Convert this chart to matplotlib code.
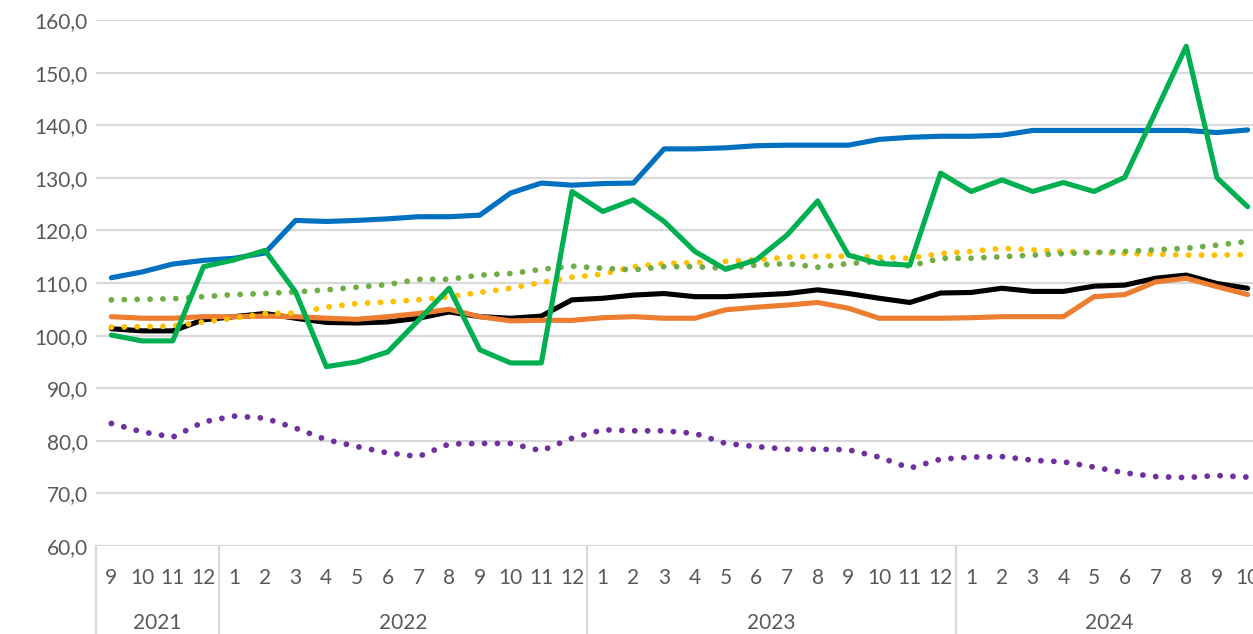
import matplotlib
matplotlib.use("Agg")
import matplotlib.pyplot as plt
import matplotlib.transforms as mtransforms

plt.rcParams['font.family'] = ['Lato', 'DejaVu Sans']

months = [9, 10, 11, 12,
          1, 2, 3, 4, 5, 6, 7, 8, 9, 10, 11, 12,
          1, 2, 3, 4, 5, 6, 7, 8, 9, 10, 11, 12,
          1, 2, 3, 4, 5, 6, 7, 8, 9, 10]
years = ['2021', '2022', '2023', '2024']
year_counts = [4, 12, 12, 10]

blue = [111.0, 112.1, 113.6, 114.3, 114.7, 115.7, 121.9, 121.7, 121.9, 122.2,
        122.6, 122.6, 122.9, 127.1, 129.0, 128.6, 128.9, 129.0, 135.5, 135.5,
        135.7, 136.1, 136.2, 136.2, 136.2, 137.3, 137.7, 137.9, 137.9, 138.1,
        139.0, 139.0, 139.0, 139.0, 139.0, 139.0, 138.6, 139.1]
green = [100.1, 99.0, 99.0, 113.1, 114.4, 116.2, 108.3, 94.1, 95.0, 96.9,
         102.9, 109.0, 97.3, 94.8, 94.8, 127.4, 123.6, 125.8, 121.7, 116.0,
         112.6, 114.4, 119.1, 125.6, 115.3, 113.7, 113.4, 130.9, 127.4, 129.6,
         127.4, 129.1, 127.4, 130.1, 142.5, 155.0, 130.0, 124.5]
black = [101.3, 100.9, 100.9, 103.0, 103.6, 104.2, 103.3, 102.5, 102.4, 102.6,
         103.3, 104.5, 103.6, 103.3, 103.7, 106.8, 107.1, 107.7, 108.0, 107.4,
         107.4, 107.7, 108.0, 108.7, 108.0, 107.1, 106.3, 108.1, 108.2, 109.0,
         108.4, 108.4, 109.4, 109.6, 110.9, 111.5, 109.9, 109.0]
orange = [103.6, 103.3, 103.3, 103.6, 103.6, 103.7, 103.6, 103.3, 103.1, 103.6,
          104.2, 105.0, 103.6, 102.8, 102.9, 102.9, 103.4, 103.6, 103.3, 103.3,
          104.9, 105.4, 105.8, 106.3, 105.2, 103.3, 103.3, 103.3, 103.4, 103.6,
          103.6, 103.6, 107.4, 107.8, 110.2, 110.9, 109.3, 107.8]
olive = [106.8, 106.9, 107.0, 107.4, 107.8, 108.0, 108.3, 108.7, 109.2, 109.7,
         110.7, 110.7, 111.5, 111.8, 112.6, 113.2, 112.8, 112.5, 113.1, 113.1,
         112.8, 113.4, 113.7, 113.0, 113.7, 114.1, 113.2, 114.7, 114.7, 115.0,
         115.3, 115.6, 115.8, 116.0, 116.3, 116.6, 117.2, 117.9]
yellow = [101.6, 101.7, 101.8, 102.6, 103.3, 104.2, 104.3, 105.4, 106.1, 106.4,
          106.8, 107.4, 108.2, 109.0, 110.1, 111.1, 111.7, 113.1, 113.7, 113.9,
          114.1, 114.4, 114.9, 115.1, 115.1, 114.9, 114.7, 115.6, 116.0, 116.6,
          116.3, 116.0, 115.8, 115.6, 115.5, 115.3, 115.3, 115.4]
purple = [83.3, 81.7, 80.7, 83.6, 84.7, 84.3, 82.4, 80.2, 78.9, 77.7,
          77.0, 79.4, 79.5, 79.5, 78.1, 80.5, 82.1, 81.9, 81.9, 81.4,
          79.5, 78.9, 78.4, 78.4, 78.3, 76.9, 74.8, 76.5, 76.9, 77.0,
          76.3, 76.0, 75.0, 73.9, 73.2, 73.0, 73.4, 73.1]

W, H = 1253, 634
fig = plt.figure(figsize=(W / 100, H / 100), dpi=100)
left, right, top, bottom = 96, 1263, 20, 546
ax = fig.add_axes([left / W, (H - bottom) / H, (right - left) / W, (bottom - top) / H])

x = list(range(len(months)))
grid_c = '#D9D9D9'
text_c = '#595959'

ax.set_ylim(60, 160)
ax.set_xlim(-0.5, len(months) - 0.5)
for v in range(60, 161, 10):
    ax.axhline(v, color=grid_c, lw=1.6, zorder=0)

solid = dict(lw=3.7, solid_capstyle='round', solid_joinstyle='round')
dotted = dict(lw=4.2, linestyle=(0, (0.01, 2.2)), dash_capstyle='round')

ax.plot(x, black, color='black', **solid)
ax.plot(x, orange, color='#ED7D31', **solid)
ax.plot(x, blue, color='#0070C0', **solid)
ax.plot(x, yellow, color='#FFC000', **dotted)
ax.plot(x, olive, color='#70AD47', **dotted)
ax.plot(x, purple, color='#7030A0', **dotted)
ax.plot(x, green, color='#00B050', **solid)

for s in ax.spines.values():
    s.set_visible(False)

ax.set_yticks(range(60, 161, 10))
ax.set_yticklabels([f"{v},0" for v in range(60, 161, 10)], fontsize=15, color=text_c)
ax.tick_params(axis='y', length=0, pad=6)
ax.set_xticks([])

trans = mtransforms.blended_transform_factory(ax.transData, ax.transAxes)
ah = bottom - top
for i, m in enumerate(months):
    ax.text(i, -32 / ah, str(m), transform=trans, ha='center', va='center',
            fontsize=15, color=text_c)

start = 0
seps = [-0.5]
for yr, n in zip(years, year_counts):
    ax.text(start + (n - 1) / 2, -77 / ah, yr, transform=trans, ha='center',
            va='center', fontsize=15, color=text_c)
    start += n
    seps.append(start - 0.5)
for s in seps[:-1]:
    ax.plot([s, s], [0, -100 / ah], transform=trans, color=grid_c, lw=1.6,
            clip_on=False)

fig.savefig('out.png', dpi=100)
